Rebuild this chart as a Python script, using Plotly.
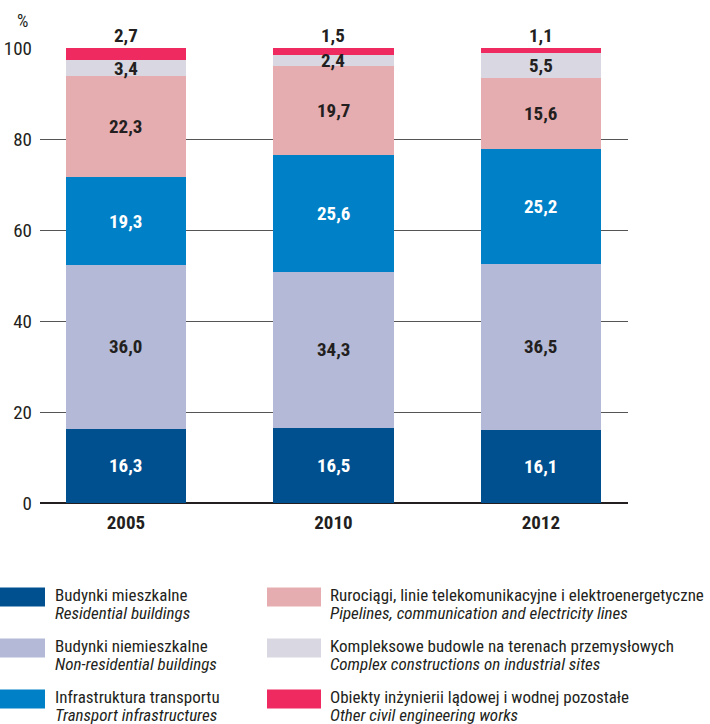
import plotly.graph_objects as go

years = ["2005", "2010", "2012"]

residential = [16.3, 16.5, 16.1]
non_residential = [36.0, 34.3, 36.5]
transport = [19.3, 25.6, 25.2]
pipelines = [22.3, 19.7, 15.6]
industrial = [3.4, 2.4, 5.5]
other = [2.7, 1.5, 1.1]

series_pl = ["Budynki mieszkalne", "Budynki niemieszkalne", "Infrastruktura transportu",
             "Rurociągi, linie telekomunikacyjne i elektroenergetyczne",
             "Kompleksowe budowle na terenach przemysłowych",
             "Obiekty inżynierii lądowej i wodnej pozostałe"]
series_en = ["Residential buildings", "Non-residential buildings", "Transport infrastructures",
             "Pipelines, communication and electricity lines",
             "Complex constructions on industrial sites",
             "Other civil engineering works"]
colors = ["#00508f", "#b3b9d6", "#0080c6", "#e6adb1", "#d8d7e2", "#ee2a60"]
label_colors = ["white", "#231f20", "white", "#231f20", "#231f20", "#231f20"]

FONT = "Liberation Sans Narrow, Arial Narrow, Roboto Condensed, Liberation Sans, sans-serif"
TXT = "#231f20"

W, H = 710, 724
L, R, T, B = 40, 82, 48, 221

def px(x, y):
    # pixel -> paper coords
    return (x - L) / (W - L - R), (H - B - y) / (H - T - B)

values = [residential, non_residential, transport, pipelines, industrial, other]

fig = go.Figure()
for vals, name, col in zip(values, series_pl, colors):
    fig.add_trace(go.Bar(x=[0, 1, 2], y=vals, name=name, marker_color=col,
                         marker_line_width=0, width=0.58, showlegend=False,
                         hoverinfo="skip"))

annotations = []
# value labels
for j in range(3):
    base = 0
    for i, vals in enumerate(values):
        v = vals[j]
        txt = f"{v:.1f}".replace(".", ",")
        if i == len(values) - 1:
            annotations.append(dict(x=j, y=100, text=f"<b>{txt}</b>", showarrow=False,
                                    yanchor="bottom", yshift=-1,
                                    font=dict(family=FONT, size=19, color=TXT)))
        else:
            annotations.append(dict(x=j, y=base + v / 2, text=f"<b>{txt}</b>", showarrow=False,
                                    font=dict(family=FONT, size=19, color=label_colors[i])))
        base += v

ax, ay = px(22, 20)
annotations.append(dict(x=ax, y=ay, xref="paper", yref="paper",
                        text="%", showarrow=False, xanchor="center", yanchor="middle",
                        font=dict(family=FONT, size=18, color=TXT)))

shapes = []
cols = [(0, 53, 45), (267, 328, 54)]
rows = [597, 648, 699]
for k in range(6):
    c = k // 3
    r = k % 3
    sx, tx, sw = cols[c]
    yc = rows[r]
    x0, y0 = px(sx, yc - 9.5)
    x1, y1 = px(sx + sw, yc + 9.5)
    shapes.append(dict(type="rect", xref="paper", yref="paper", x0=x0, x1=x1, y0=y0, y1=y1,
                       fillcolor=colors[k], line_width=0))
    ax, ay = px(tx, yc - 2)
    annotations.append(dict(x=ax, y=ay, xref="paper", yref="paper", text=series_pl[k],
                            showarrow=False, xanchor="left", yanchor="middle",
                            font=dict(family=FONT, size=17, color=TXT)))
    ax, ay = px(tx, yc + 16)
    annotations.append(dict(x=ax, y=ay, xref="paper", yref="paper", text=f"<i>{series_en[k]}</i>",
                            showarrow=False, xanchor="left", yanchor="middle",
                            font=dict(family=FONT, size=17, color=TXT)))

fig.update_layout(
    width=W, height=H,
    margin=dict(l=L, r=R, t=T, b=B, autoexpand=False),
    barmode="stack",
    plot_bgcolor="white", paper_bgcolor="white",
    annotations=annotations, shapes=shapes,
    xaxis=dict(range=[-0.414, 2.42], tickvals=[0, 1, 2],
               ticktext=[f"<b>{y}</b>" for y in years], automargin=False,
               showgrid=False, zeroline=False, showline=False, ticks="",
               ticklabelstandoff=6,
               tickfont=dict(family=FONT, size=19, color=TXT), fixedrange=True),
    yaxis=dict(range=[0, 100], tickvals=[0, 20, 40, 60, 80, 100], automargin=False,
               showgrid=True, gridcolor="#555555", gridwidth=1,
               zeroline=True, zerolinecolor="#231f20", zerolinewidth=1.5,
               ticks="", ticklabelstandoff=7,
               tickfont=dict(family=FONT, size=19, color=TXT), fixedrange=True),
)

# the page body has a default margin; drop it so the figure sits at the window corner
fig.write_html("out.html", config={"displayModeBar": False},
               post_script="document.body.style.margin='0';")
